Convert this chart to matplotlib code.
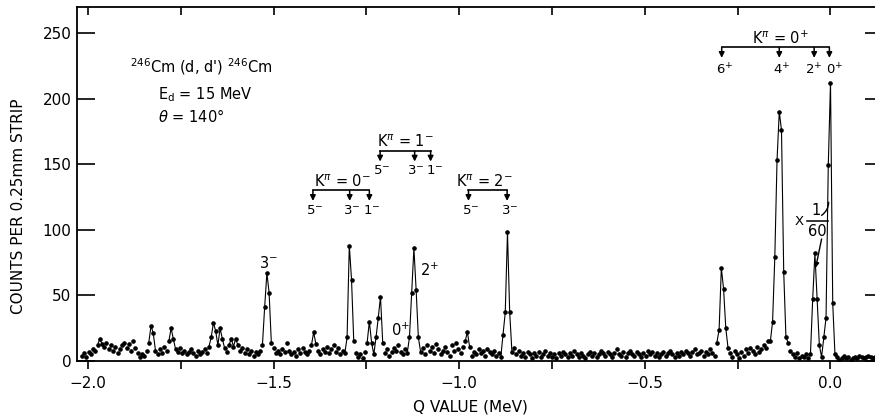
import numpy as np
import matplotlib
matplotlib.use("Agg")
import matplotlib.pyplot as plt

# ---------------- data ----------------
q_start = -2.016      # MeV, first strip
q_step = 0.006        # MeV per strip
counts = [
    4, 6, 3, 7, 5, 9, 8, 12, 17, 13,
    11, 14, 9, 12, 8, 11, 6, 9, 12, 14,
    10, 13, 8, 15, 10, 6, 3, 5, 4, 8,
    14, 27, 21, 8, 5, 9, 6, 11, 8, 15,
    25, 17, 9, 7, 10, 6, 8, 5, 7, 9,
    6, 4, 8, 5, 7, 9, 6, 11, 18, 29,
    23, 12, 25, 17, 10, 7, 12, 17, 11, 17,
    12, 8, 10, 6, 9, 5, 8, 4, 7, 5,
    8, 12, 41, 67, 52, 14, 10, 6, 8, 5,
    9, 7, 14, 8, 5, 7, 4, 9, 6, 10,
    7, 5, 8, 12, 22, 13, 8, 5, 9, 7,
    11, 6, 9, 12, 7, 10, 5, 8, 6, 18,
    88, 62, 15, 6, 3, 5, 2, 7, 14, 30,
    14, 5, 18, 33, 49, 14, 6, 9, 4, 7,
    10, 8, 12, 7, 5, 9, 6, 18, 52, 86,
    54, 18, 7, 10, 5, 12, 8, 11, 6, 13,
    9, 5, 8, 11, 7, 4, 12, 8, 14, 9,
    6, 11, 15, 22, 11, 4, 7, 5, 9, 6,
    8, 4, 9, 7, 5, 8, 4, 6, 3, 20,
    37, 98, 37, 7, 10, 5, 8, 4, 6, 3,
    7, 5, 2, 6, 4, 7, 3, 5, 8, 4,
    6, 3, 5, 2, 6, 4, 7, 5, 3, 6,
    4, 8, 5, 3, 6, 4, 2, 5, 7, 4,
    6, 3, 5, 8, 6, 4, 7, 5, 3, 6,
    9, 5, 4, 7, 3, 6, 8, 5, 4, 7,
    5, 3, 6, 4, 8, 5, 7, 4, 6, 3,
    5, 7, 4, 6, 8, 5, 3, 6, 4, 7,
    5, 8, 6, 4, 7, 9, 5, 6, 8, 4,
    7, 5, 9, 6, 4, 14, 24, 71, 55, 25,
    10, 6, 3, 8, 5, 2, 7, 4, 9, 6,
    10, 8, 5, 11, 7, 9, 12, 10, 15, 15,
    30, 79, 153, 190, 176, 68, 18, 14, 8, 5,
    3, 6, 2, 4, 3, 5, 2, 5, 47, 82,
    47, 12, 3, 18, 33, 149, 212, 44, 5, 3,
    1, 2, 4, 2, 3, 1, 2, 3, 2, 4,
    3, 2, 3, 4, 3, 2, 3, 4, 2, 3,
]

# rotational band level positions (Q, MeV) and spin labels
k0p_q = [-0.293, -0.138, -0.044, -0.003]
k0p_lab = ["6$^{+}$", "4$^{+}$", "2$^{+}$", "0$^{+}$"]
k1m_q = [-1.213, -1.120, -1.077]
k1m_lab = ["5$^{-}$", "3$^{-}$", "1$^{-}$"]
k0m_q = [-1.394, -1.295, -1.242]
k0m_lab = ["5$^{-}$", "3$^{-}$", "1$^{-}$"]
k2m_q = [-0.975, -0.871]
k2m_lab = ["5$^{-}$", "3$^{-}$"]

x_ticks = [-2.0, -1.5, -1.0, -0.5, 0.0]
x_ticklabels = ["\u22122.0", "\u22121.5", "\u22121.0", "\u22120.5", "0.0"]
x_minor = [-1.75, -1.25, -0.75, -0.25]
y_ticks = [0, 50, 100, 150, 200, 250]

# ---------------- figure ----------------
plt.rcParams['font.family'] = ['DejaVu Sans']
plt.rcParams['mathtext.fontset'] = 'dejavusans'

W, H = 875, 419
fig = plt.figure(figsize=(W / 100, H / 100), dpi=100)
ax = fig.add_axes([77 / W, 1 - 361 / H, 806 / W, 353.5 / H])

cnt = np.array(counts, dtype=float)
q = q_start + q_step * np.arange(len(cnt))

strong = cnt >= 16
mask = strong | np.roll(strong, 1) | np.roll(strong, -1)
yline = np.where(mask, cnt, np.nan)
ax.plot(q, yline, color='k', lw=0.8, zorder=2)
ax.plot(q, cnt, ls='none', marker='o', ms=2.3, color='k', zorder=3)

ax.set_xlim(-2.0294, 0.1414)
ax.set_ylim(0, 269.4)

for side in ['left', 'bottom', 'top']:
    ax.spines[side].set_linewidth(1.3)
ax.spines['right'].set_visible(False)

ax.set_xticks(x_ticks)
ax.set_xticklabels(x_ticklabels)
ax.set_xticks(x_minor, minor=True)
ax.set_yticks(y_ticks)
ax.tick_params(axis='x', which='both', direction='out', length=6, width=1.2,
               labelsize=11, pad=5, top=False)
ax.tick_params(axis='y', which='both', direction='in', length=13, width=1.2,
               labelsize=11, pad=4, left=True, right=True)

secx = ax.secondary_xaxis('top')
secx.set_xticks(x_ticks + x_minor)
secx.tick_params(direction='in', length=6, width=1.2, labeltop=False)
secx.spines['top'].set_visible(False)

ax.set_xlabel("Q VALUE (MeV)", fontsize=11)
ax.xaxis.set_label_coords(0.4876, -0.130)
ax.xaxis.label.set_va('center')
ax.set_ylabel("COUNTS PER 0.25mm STRIP", fontsize=11)
ax.yaxis.set_label_coords(-0.073, 0.438)
ax.yaxis.label.set_va('center')

fs = 10.5
ax.text(-1.887, 224, "$^{246}$Cm (d, d') $^{246}$Cm", fontsize=fs, va='center', ha='left')
ax.text(-1.811, 203, "E$_{\\rm d}$ = 15 MeV", fontsize=fs, va='center', ha='left')
ax.text(-1.811, 186, "$\\theta$ = 140\u00b0", fontsize=fs, va='center', ha='left')

# peak labels
ax.text(-1.513, 75, "3$^{-}$", fontsize=fs, ha='center', va='center')
ax.text(-1.080, 69, "2$^{+}$", fontsize=fs, ha='center', va='center')
ax.text(-1.157, 23, "0$^{+}$", fontsize=fs, ha='center', va='center')

# x 1/60 label (scale factor of the two strongest peaks)
ax.text(-0.085, 106, "X", fontsize=9.5, ha='center', va='center')
ax.text(-0.038, 115, "1", fontsize=fs, ha='center', va='center')
ax.text(-0.036, 99, "60", fontsize=fs, ha='center', va='center')
ax.plot([-0.064, -0.008], [107, 107], color='k', lw=1.1)
ax.annotate("", xy=(-0.005, 121), xytext=(-0.024, 111),
            arrowprops=dict(arrowstyle='-', color='k', lw=1.0,
                            connectionstyle='arc3,rad=0.25', shrinkA=0, shrinkB=0))
ax.annotate("", xy=(-0.040, 71), xytext=(-0.024, 93),
            arrowprops=dict(arrowstyle='-|>', color='k', lw=1.0, mutation_scale=7,
                            shrinkA=0, shrinkB=0))


def band(levels, labels, title, tx, ty, line_y, tip_y, lab_y, offsets=None):
    ax.text(tx, ty, title, fontsize=fs, ha='center', va='center')
    ax.plot([min(levels), max(levels)], [line_y, line_y], color='k', lw=1.2)
    if offsets is None:
        offsets = [0.006] * len(levels)
    for lq, lb, off in zip(levels, labels, offsets):
        ax.annotate("", xy=(lq, tip_y), xytext=(lq, line_y),
                    arrowprops=dict(arrowstyle='-|>', color='k', lw=1.1,
                                    mutation_scale=8, shrinkA=0, shrinkB=0))
        ax.text(lq + off, lab_y, lb, fontsize=9.5, ha='center', va='center')


band(k0p_q, k0p_lab, "K$^{\\pi}$ = 0$^{+}$", -0.135, 246, 239, 231, 222,
     offsets=[0.008, 0.006, -0.002, 0.014])
band(k1m_q, k1m_lab, "K$^{\\pi}$ = 1$^{-}$", -1.146, 167, 160, 152, 145,
     offsets=[0.004, 0.003, 0.011])
band(k0m_q, k0m_lab, "K$^{\\pi}$ = 0$^{-}$", -1.314, 137, 130, 122, 115)
band(k2m_q, k2m_lab, "K$^{\\pi}$ = 2$^{-}$", -0.931, 137, 130, 122, 115)

fig.savefig("out.png", dpi=100)
